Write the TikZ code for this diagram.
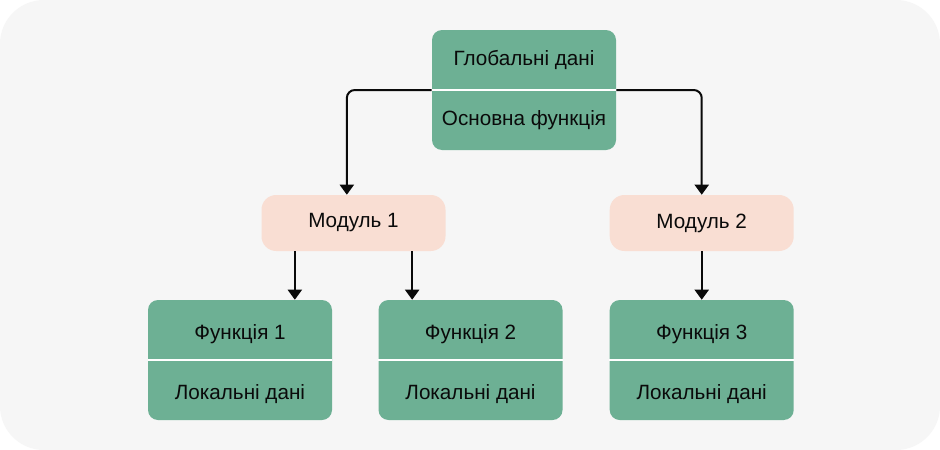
\documentclass[tikz,border=0pt]{standalone}
\usepackage{fontspec}
\setmainfont{Liberation Sans}
\usetikzlibrary{positioning,arrows.meta,calc}
\definecolor{ink}{RGB}{10,10,10}
\definecolor{leaf}{RGB}{109,176,148}
\definecolor{peach}{RGB}{249,222,211}
\definecolor{paper}{RGB}{246,246,246}

\begin{document}
\begin{tikzpicture}[x=0.75pt,y=-0.75pt,
  every node/.style={font=\fontsize{15.5}{18}\selectfont,text=ink},
  fnbox/.style={fill=leaf,rounded corners=7.5pt,minimum width=138pt,minimum height=90pt,inner sep=0pt},
  modbox/.style={fill=peach,rounded corners=11pt,minimum width=138pt,minimum height=42pt},
  sep/.style={draw=white,line width=1.5pt},
  arrow/.style={-{Triangle[length=7.5pt,width=10.5pt]},line width=1.5pt,draw=ink}
]
\useasboundingbox (0,0) rectangle (940,450);
\fill[white] (0,0) rectangle (940,450);
\fill[paper,rounded corners=33pt] (0,0) rectangle (940,450);

% top block
\node[fnbox] (glob) at (524,90) {};
\draw[sep] (glob.west) -- (glob.east);
\node (globA) at ([yshift=22.5pt]glob.center) {Глобальні дані};
\node (globB) at ([yshift=-22.5pt]glob.center) {Основна функція};

% functions
\node[fnbox] (f1) at (240,360) {};
\node[fnbox,right=34.5pt of f1] (f2) {};
\node[fnbox,right=35pt of f2] (f3) {};
\foreach \f/\n in {f1/1,f2/2,f3/3} {
  \draw[sep] (\f.west) -- (\f.east);
  \node (\f-top) at ([yshift=19.5pt]\f.center) {Функція \n};
  \node (\f-bot) at ([yshift=-25.5pt]\f.center) {Локальні дані};
}

% modules
\node[modbox] (m1) at (353.5,223) {Модуль 1};
\node[modbox] (m2) at (f3 |- m1) {Модуль 2};

\draw[arrow,rounded corners=6pt] (glob.west) -| ([xshift=-5pt]m1.north);
\draw[arrow,rounded corners=6pt] (glob.east) -| (m2.north);
\draw[arrow] ([xshift=-44pt]m1.south) -- ([xshift=-44pt]m1.south |- f1.north);
\draw[arrow] ([xshift=44pt]m1.south) -- ([xshift=44pt]m1.south |- f2.north);
\draw[arrow] (m2) -- (f3);
\end{tikzpicture}
\end{document}
